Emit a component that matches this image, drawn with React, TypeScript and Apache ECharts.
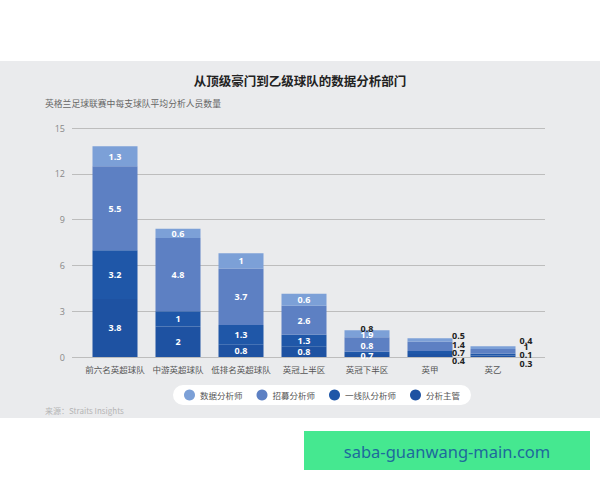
import React, { useEffect, useRef } from "react";
import * as echarts from "echarts";

const categories = ["前六名英超球队", "中游英超球队", "低排名英超球队", "英冠上半区", "英冠下半区", "英甲", "英乙"];
const seriesNames = ["分析主管", "一线队分析师", "招募分析师", "数据分析师"];
const legendOrder = ["数据分析师", "招募分析师", "一线队分析师", "分析主管"];

// bar segment heights as drawn in the picture
const headValues = [3.8, 2, 0.8, 0.7, 0.2, 0.2, 0.1];
const firstTeamValues = [3.2, 1, 1.3, 0.75, 0.15, 0.2, 0.12];
const recruitValues = [5.5, 4.8, 3.7, 1.9, 0.95, 0.6, 0.3];
const dataValues = [1.3, 0.6, 1, 0.8, 0.45, 0.22, 0.18];

// printed labels
const headLabels = ["3.8", "2", "0.8", "0.8", "0.7", "0.4", "0.3"];
const firstTeamLabels = ["3.2", "1", "1.3", "1.3", "0.8", "0.7", "0.1"];
const recruitLabels = ["5.5", "4.8", "3.7", "2.6", "1.9", "1.4", "1"];
const dataLabels = ["1.3", "0.6", "1", "0.6", "0.8", "0.5", "0.4"];

const yMin = 0;
const yMax = 15;
const yInterval = 3;

const seriesValues = [headValues, firstTeamValues, recruitValues, dataValues];
const seriesLabels = [headLabels, firstTeamLabels, recruitLabels, dataLabels];
const seriesColors = ["#1e52a2", "#1f57a8", "#5d80c3", "#7ca0d7"];

// label placement tweaks (series index -> category index -> style)
const labelTweaks: Record<number, Record<number, { offset: number[]; color: string }>> = {
  0: { 4: { offset: [0, 0.5], color: "#fff" }, 5: { offset: [28.5, 4.8], color: "#222" }, 6: { offset: [33, 7.1], color: "#222" } },
  1: { 4: { offset: [0, -7.1], color: "#fff" }, 5: { offset: [28.5, -0.4], color: "#222" }, 6: { offset: [33, 0.4], color: "#222" } },
  2: { 4: { offset: [0, -10.1], color: "#fff" }, 5: { offset: [28.5, -2.3], color: "#222" }, 6: { offset: [33, -5.1], color: "#222" } },
  3: { 4: { offset: [0, -5.4], color: "#222" }, 5: { offset: [28.5, -4.4], color: "#222" }, 6: { offset: [33, -7.4], color: "#222" } },
};

const numFont = "'Open Sans', 'Noto Sans', sans-serif";
const cjkFont = "'Noto Sans CJK SC', 'Noto Sans', sans-serif";

export default function App() {
  const ref = useRef<HTMLDivElement>(null);
  useEffect(() => {
    if (!ref.current) return;
    const chart = echarts.init(ref.current, null, { renderer: "svg" });

    const series = seriesNames.map((name, si) => ({
      name,
      type: "bar",
      stack: "total",
      xAxisIndex: 1,
      yAxisIndex: 1,
      barWidth: 45,
      itemStyle: { color: seriesColors[si] },
      label: {
        show: true,
        position: "inside",
        color: "#fff",
        fontWeight: "bold",
        fontSize: 9,
        fontFamily: numFont,
      },
      data: seriesValues[si].map((v, ci) => {
        const tw = labelTweaks[si] && labelTweaks[si][ci];
        return {
          value: v,
          label: {
            formatter: seriesLabels[si][ci],
            ...(tw ? { offset: tw.offset, color: tw.color } : {}),
          },
        };
      }),
    }));

    chart.setOption({
      animation: false,
      backgroundColor: "#ffffff",
      graphic: [
        { type: "rect", z: -10, silent: true, shape: { x: 0, y: 61, width: 600, height: 357 }, style: { fill: "#eaebed" } },
        {
          type: "text", x: 300, y: 80,
          style: { text: "从顶级豪门到乙级球队的数据分析部门", fill: "#222", fontSize: 12.5, fontWeight: "bold", fontFamily: cjkFont, align: "center", verticalAlign: "middle" },
        },
        {
          type: "text", x: 45, y: 103,
          style: { text: "英格兰足球联赛中每支球队平均分析人员数量", fill: "#666", fontSize: 8.8, fontFamily: cjkFont, align: "left", verticalAlign: "middle" },
        },
        {
          type: "text", x: 45, y: 410,
          style: { text: "来源：Straits Insights", fill: "#b5b5b5", fontSize: 8, fontFamily: cjkFont, align: "left", verticalAlign: "middle" },
        },
        { type: "rect", shape: { x: 304, y: 431, width: 286, height: 39 }, style: { fill: "#45e890" } },
        {
          type: "text", x: 447, y: 451,
          style: { text: "saba-guanwang-main.com", fill: "#1d6a9c", fontSize: 16.5, fontFamily: "'Noto Sans', sans-serif", align: "center", verticalAlign: "middle" },
        },
      ],
      legend: {
        data: legendOrder.map((n) => ({ name: n, icon: "circle" })),
        left: 173,
        top: 385,
        itemWidth: 11,
        itemHeight: 11,
        itemGap: 14,
        padding: [4.5, 11, 4.5, 11],
        backgroundColor: "#ffffff",
        borderRadius: 10,
        textStyle: { fontSize: 8.5, color: "#555", fontFamily: cjkFont },
      },
      grid: [
        { left: 72, right: 55, top: 128, bottom: 123 },
        { left: 83.5, right: 75.5, top: 128, bottom: 123 },
      ],
      xAxis: [
        { type: "value", gridIndex: 0, min: 0, max: 1, show: false },
        {
          type: "category",
          gridIndex: 1,
          data: categories,
          axisLine: { show: false },
          axisTick: { show: false },
          axisLabel: { color: "#555", fontSize: 8.5, margin: 8, fontFamily: cjkFont, interval: 0 },
        },
      ],
      yAxis: [
        {
          type: "value",
          gridIndex: 0,
          min: yMin,
          max: yMax,
          interval: yInterval,
          axisLine: { show: false },
          axisTick: { show: false },
          axisLabel: { color: "#888", fontSize: 9, margin: 7, fontFamily: numFont },
          splitLine: { lineStyle: { color: "#bdbdbd", width: 1 } },
        },
        { type: "value", gridIndex: 1, min: yMin, max: yMax, interval: yInterval, show: false },
      ],
      series,
    });
    return () => chart.dispose();
  }, []);
  return <div ref={ref} style={{ position: "absolute", left: 0, top: 0, width: 600, height: 480 }} />;
}
